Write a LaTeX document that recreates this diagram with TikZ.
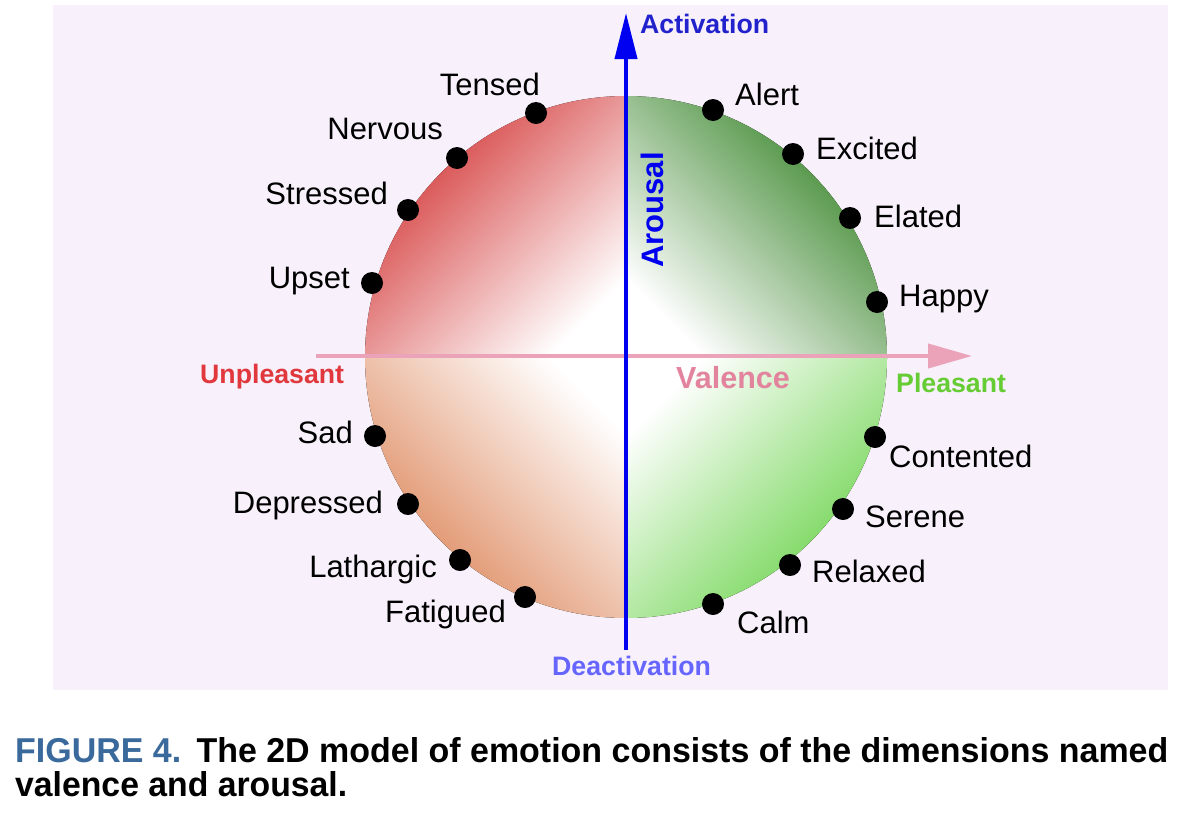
\documentclass[tikz,border=0pt]{standalone}
\usepackage{fontspec}
\setmainfont{Liberation Sans}
\usetikzlibrary{arrows.meta}
\definecolor{panel}{HTML}{F8F1FB}
\definecolor{qred}{HTML}{DB5A5A}
\definecolor{qgreen}{HTML}{5B9A4F}
\definecolor{qpeach}{HTML}{E39C78}
\definecolor{qlgreen}{HTML}{86DB6C}
\definecolor{axblue}{HTML}{0000F0}
\definecolor{axpink}{HTML}{EBA3BA}
\definecolor{valpink}{HTML}{E3849E}
\definecolor{unred}{HTML}{E0383C}
\definecolor{plgreen}{HTML}{66CC33}
\definecolor{deblue}{HTML}{6666FF}
\definecolor{actblue}{HTML}{2222CC}
\definecolor{capblue}{HTML}{3A6A9C}
\pgfdeclareverticalshading{shtl}{100bp}{color(0bp)=(white); color(25bp)=(white); color(65bp)=(qred); color(100bp)=(qred)}
\pgfdeclareverticalshading{shtr}{100bp}{color(0bp)=(white); color(25bp)=(white); color(65bp)=(qgreen); color(100bp)=(qgreen)}
\pgfdeclareverticalshading{shbl}{100bp}{color(0bp)=(white); color(25bp)=(white); color(65bp)=(qpeach); color(100bp)=(qpeach)}
\pgfdeclareverticalshading{shbr}{100bp}{color(0bp)=(white); color(25bp)=(white); color(65bp)=(qlgreen); color(100bp)=(qlgreen)}
\begin{document}
\begin{tikzpicture}[x=1pt,y=-1pt,
  lbl/.style={font=\fontsize{31}{36}\selectfont, text=black, inner sep=0pt},
  axlbl/.style={font=\fontsize{26.7}{30}\selectfont\bfseries, inner sep=0pt},
  dot/.style={circle, fill=black, minimum size=22pt, inner sep=0pt},
  vaxis/.style={draw=axblue, line width=4pt, -{Triangle[length=46pt,width=22pt]}},
  haxis/.style={draw=axpink, line width=4pt, -{Triangle[length=44pt,width=24pt]}}]
\useasboundingbox (0,0) rectangle (1196,822);
\fill[white] (0,0) rectangle (1196,822);
\fill[panel] (53,5) rectangle (1168,690);
% circle quadrants
\coordinate (c) at (626,357);
\fill[shading=shtl, shading angle=45]
  (c) -- ++(-261,0) arc[start angle=180, end angle=270, radius=261] -- cycle;
\fill[shading=shtr, shading angle=-45]
  (c) -- ++(0,-261) arc[start angle=270, end angle=360, radius=261] -- cycle;
\fill[shading=shbl, shading angle=135]
  (c) -- ++(-261,0) arc[start angle=180, end angle=90, radius=261] -- cycle;
\fill[shading=shbr, shading angle=-135]
  (c) -- ++(261,0) arc[start angle=0, end angle=90, radius=261] -- cycle;
% axes
\coordinate (hl) at (316,356);
\coordinate (hr) at (972,356);
\coordinate (vb) at (626,650);
\coordinate (vt) at (626,13);
\draw[haxis] (hl) -- (hr);
\draw[vaxis] (vb) -- (vt);
% axis labels
\node[axlbl, text=actblue, anchor=base west] (act) at (640,33) {Activation};
\node[axlbl, text=deblue, anchor=base west] (deact) at (552,675) {Deactivation};
\node[axlbl, text=unred, anchor=base west] (unpl) at (200,383) {Unpleasant};
\node[axlbl, font=\fontsize{30.5}{34}\selectfont\bfseries, text=valpink, anchor=base west] (val) at (676,388) {Valence};
\node[axlbl, text=plgreen, anchor=base west] (pleas) at (896,392) {Pleasant};
\node[axlbl, font=\fontsize{31}{34}\selectfont\bfseries, text=axblue, rotate=90] (arou) at (652,210) {Arousal};
% dots
\node[dot] (tensed) at (536,113) {};
\node[dot] (nervous) at (457,158) {};
\node[dot] (stressed) at (408,210) {};
\node[dot] (upset) at (372,283) {};
\node[dot] (sad) at (375,436) {};
\node[dot] (depressed) at (408,504) {};
\node[dot] (lathargic) at (460,560) {};
\node[dot] (fatigued) at (525,597) {};
\node[dot] (alert) at (713,110) {};
\node[dot] (excited) at (793,154) {};
\node[dot] (elated) at (850,218) {};
\node[dot] (happy) at (877,302) {};
\node[dot] (contented) at (875,437) {};
\node[dot] (serene) at (843,509) {};
\node[dot] (relaxed) at (790,565) {};
\node[dot] (calm) at (713,604) {};
% labels
\node[lbl, anchor=base east] (tensedL) at (540,95) {Tensed};
\node[lbl, anchor=base east] (nervousL) at (443,139) {Nervous};
\node[lbl, anchor=base east] (stressedL) at (388,204) {Stressed};
\node[lbl, anchor=base east] (upsetL) at (350,288) {Upset};
\node[lbl, anchor=base east] (sadL) at (353,443) {Sad};
\node[lbl, anchor=base east] (depressedL) at (383,513) {Depressed};
\node[lbl, anchor=base east] (lathargicL) at (437,577) {Lathargic};
\node[lbl, anchor=base east] (fatiguedL) at (506,622) {Fatigued};
\node[lbl, anchor=base west] (alertL) at (735,105) {Alert};
\node[lbl, anchor=base west] (excitedL) at (816,159) {Excited};
\node[lbl, anchor=base west] (elatedL) at (874,227) {Elated};
\node[lbl, anchor=base west] (happyL) at (899,306) {Happy};
\node[lbl, anchor=base west] (contentedL) at (889,467) {Contented};
\node[lbl, anchor=base west] (sereneL) at (865,527) {Serene};
\node[lbl, anchor=base west] (relaxedL) at (812,582) {Relaxed};
\node[lbl, anchor=base west] (calmL) at (737,633) {Calm};
% caption
\node[anchor=base west, inner sep=0pt] (cap1) at (15,762)
  {\resizebox{1153pt}{25pt}{\bfseries\textcolor{capblue}{FIGURE 4.}\hspace{0.45em}The 2D model of emotion consists of the dimensions named}};
\node[anchor=base west, inner sep=0pt] (cap2) at (15,796)
  {\resizebox{332pt}{25pt}{\bfseries valence and arousal.}};
\end{tikzpicture}
\end{document}
